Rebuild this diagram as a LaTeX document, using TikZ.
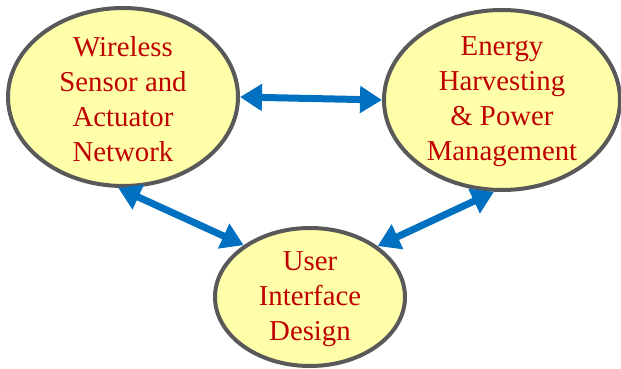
\documentclass[tikz,border=0pt]{standalone}
\usepackage{fontspec}
\setmainfont{Liberation Serif}
\newfontfamily\lblfont{Liberation Serif}
\usetikzlibrary{shapes.geometric,arrows.meta}
\definecolor{fillyel}{RGB}{255,255,170}
\definecolor{edgegray}{RGB}{89,89,89}
\definecolor{txtred}{RGB}{192,0,0}
\definecolor{arrblue}{RGB}{0,112,192}
\tikzset{
  bubble/.style={ellipse, draw=edgegray, fill=fillyel, line width=4pt, inner sep=0pt},
  bubtext/.style={align=center, text=txtred, font=\lblfont\fontsize{28.8}{35}\selectfont, inner sep=0pt},
  link/.style={draw=arrblue, line width=7pt, {Triangle[length=22pt,width=26pt]}-{Triangle[length=22pt,width=26pt]}}
}
\begin{document}
\begin{tikzpicture}[x=1pt,y=-1pt]
\useasboundingbox (0,0) rectangle (621,369);
\node[bubble, minimum width=230pt, minimum height=178pt] (wsn) at (123,97) {};
\node[bubble, minimum width=236pt, minimum height=180pt] (ehp) at (502,100) {};
\node[bubble, minimum width=190pt, minimum height=138pt] (uid) at (310,297) {};
\node[bubtext] (wsnt) at (123,99) {Wireless\\Sensor and\\Actuator\\Network};
\node[bubtext] (ehpt) at (502,102) {Energy\\Harvesting\\\& Power\\Management};
\node[bubtext] (uidt) at (310,299) {User\\Interface\\Design};
\draw[link] (wsn.east) -- (ehp.west);
\draw[link] (wsn.-93) -- (uid.142);
\draw[link] (ehp.-95) -- (uid.37);
\end{tikzpicture}
\end{document}
